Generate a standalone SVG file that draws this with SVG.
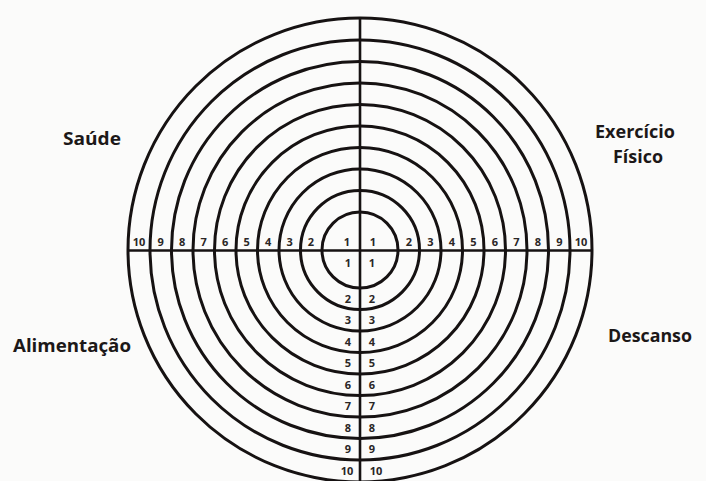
<svg xmlns="http://www.w3.org/2000/svg" width="706" height="481" viewBox="0 0 706 481">
<style>
.ring{fill:none;stroke:#161212;stroke-width:3}
.axis{stroke:#161212;stroke-width:2.6;fill:none}
.num{font-family:"Open Sans","Liberation Sans",sans-serif;font-weight:700;font-size:11px;fill:#2a2626;text-anchor:middle}
.cat{font-family:"Open Sans","Liberation Sans",sans-serif;font-weight:700;font-size:17px;fill:#1c1818}
</style>
<rect width="706" height="481" fill="#fbfbfa"/>
<g id="rings">
<circle class="ring" cx="360" cy="250" r="38"/>
<circle class="ring" cx="360" cy="250" r="59.5"/>
<circle class="ring" cx="360" cy="250" r="81"/>
<circle class="ring" cx="360" cy="250" r="102.5"/>
<circle class="ring" cx="360" cy="250" r="124"/>
<circle class="ring" cx="360" cy="250" r="145.5"/>
<circle class="ring" cx="360" cy="250" r="167"/>
<circle class="ring" cx="360" cy="250" r="188.5"/>
<circle class="ring" cx="360" cy="250" r="210"/>
<circle class="ring" cx="360" cy="250" r="232"/>
</g>
<g id="axes">
<line class="axis" x1="360" y1="17" x2="360" y2="481"/>
<line class="axis" x1="128" y1="250.5" x2="592" y2="250.5"/>
</g>
<g id="scale-left">
<text class="num" x="347" y="246">1</text>
<text class="num" x="311" y="246">2</text>
<text class="num" x="289.7" y="246">3</text>
<text class="num" x="268.2" y="246">4</text>
<text class="num" x="246.7" y="246">5</text>
<text class="num" x="225.2" y="246">6</text>
<text class="num" x="203.7" y="246">7</text>
<text class="num" x="182.2" y="246">8</text>
<text class="num" x="160.7" y="246">9</text>
<text class="num" x="139" y="246">10</text>
</g>
<g id="scale-right">
<text class="num" x="373" y="246">1</text>
<text class="num" x="409" y="246">2</text>
<text class="num" x="430.3" y="246">3</text>
<text class="num" x="451.8" y="246">4</text>
<text class="num" x="473.3" y="246">5</text>
<text class="num" x="494.8" y="246">6</text>
<text class="num" x="516.3" y="246">7</text>
<text class="num" x="537.8" y="246">8</text>
<text class="num" x="559.3" y="246">9</text>
<text class="num" x="581" y="246">10</text>
</g>
<g id="scale-down-left">
<text class="num" x="348" y="267">1</text>
<text class="num" x="348" y="303">2</text>
<text class="num" x="348" y="324">3</text>
<text class="num" x="348" y="346">4</text>
<text class="num" x="348" y="367">5</text>
<text class="num" x="348" y="389">6</text>
<text class="num" x="348" y="410">7</text>
<text class="num" x="348" y="432">8</text>
<text class="num" x="348" y="453">9</text>
<text class="num" x="347" y="475">10</text>
</g>
<g id="scale-down-right">
<text class="num" x="372" y="267">1</text>
<text class="num" x="372" y="303">2</text>
<text class="num" x="372" y="324">3</text>
<text class="num" x="372" y="346">4</text>
<text class="num" x="372" y="367">5</text>
<text class="num" x="372" y="389">6</text>
<text class="num" x="372" y="410">7</text>
<text class="num" x="372" y="432">8</text>
<text class="num" x="372" y="453">9</text>
<text class="num" x="376" y="475">10</text>
</g>
<g id="saude"><text class="cat" x="63" y="145" textLength="58" lengthAdjust="spacingAndGlyphs">Saúde</text></g>
<g id="exercicio"><text class="cat" x="595" y="138" textLength="80" lengthAdjust="spacingAndGlyphs">Exercício</text><text class="cat" x="613" y="163" textLength="50" lengthAdjust="spacingAndGlyphs">Físico</text></g>
<g id="alimentacao"><text class="cat" x="13" y="352" textLength="118" lengthAdjust="spacingAndGlyphs">Alimentação</text></g>
<g id="descanso"><text class="cat" x="608" y="342" textLength="84" lengthAdjust="spacingAndGlyphs">Descanso</text></g>
</svg>
